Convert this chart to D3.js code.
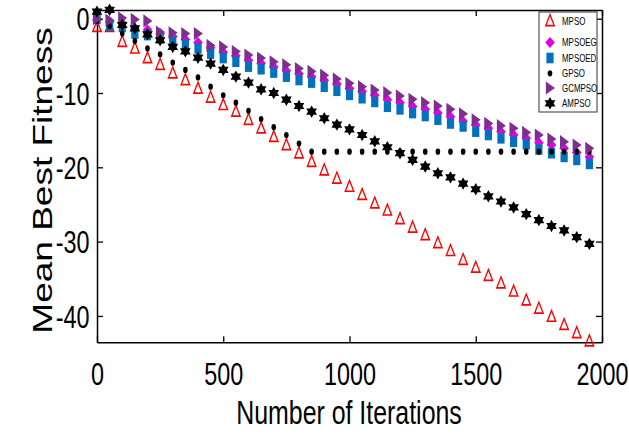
<!DOCTYPE html>
<html>
<head>
<meta charset="utf-8">
<script src="https://cdn.jsdelivr.net/npm/d3@7"></script>
<style>
  body { margin: 0; background: white; }
  text { font-family: "Liberation Sans", Arial, sans-serif; }
</style>
</head>
<body>
<div id="container"></div>
<script>
let w = 629;
let h = 435;
let squish = 0.755; // the figure was squeezed sideways

// DATA
let iterations = [0, 50, 100, 150, 200, 250, 300, 350, 400, 450, 500, 550, 600, 650, 700, 750, 800, 850, 900, 950,
  1000, 1050, 1100, 1150, 1200, 1250, 1300, 1350, 1400, 1450, 1500, 1550, 1600, 1650, 1700, 1750, 1800, 1850, 1900, 1950];

let mpso = [-1.1, -1.1, -3.1, -4.0, -5.3, -6.2, -7.35, -8.25, -9.4, -10.6, -11.6, -12.5, -13.6, -14.75, -15.9, -17.0, -18.1, -19.25, -20.4, -21.5,
  -22.6, -23.7, -24.85, -25.8, -26.95, -28.1, -29.1, -30.2, -31.25, -32.45, -33.5, -34.6, -35.6, -36.7, -37.9, -39.0, -40.1, -41.2, -42.3, -43.4];

let mpsoeg = [-0.2, -0.4, -0.6, -1.3, -1.5, -2.0, -2.4, -2.8, -3.2, -3.9, -4.5, -5.0, -5.6, -6.0, -6.5, -7.0, -7.4, -7.8, -8.3, -8.8,
  -9.4, -9.8, -10.3, -10.9, -11.3, -11.8, -12.2, -12.7, -13.2, -13.8, -14.3, -14.75, -15.2, -15.65, -16.1, -16.7, -17.0, -17.45, -18.0, -18.6];

let mpsoed = [0.0, -0.95, -1.1, -2.0, -2.2, -2.65, -3.1, -3.55, -4.0, -4.7, -5.3, -5.8, -6.45, -6.8, -7.25, -7.8, -8.25, -8.6, -9.15, -9.7,
  -10.25, -10.7, -11.2, -11.85, -12.2, -12.7, -13.1, -13.6, -14.1, -14.5, -15.2, -15.65, -16.1, -16.55, -16.9, -17.6, -18.1, -18.6, -19.0, -19.55];

let gpso = [-0.3, -1.0, -2.0, -3.0, -4.0, -4.8, -5.9, -6.9, -7.9, -9.15, -10.3, -11.3, -12.4, -13.5, -14.6, -15.65, -16.8, -17.9, -17.9, -17.9,
  -17.9, -17.9, -17.9, -17.9, -17.9, -17.9, -17.9, -17.9, -17.9, -17.9, -17.9, -17.9, -17.9, -17.9, -17.9, -17.9, -17.9, -17.9, -17.9, -17.9];

let gcmpso = [0.0, -0.2, 0.1, -0.1, -0.3, -1.8, -1.9, -2.0, -2.0, -3.6, -3.8, -4.4, -4.9, -5.3, -5.8, -6.2, -6.7, -7.1, -7.6, -8.1,
  -8.7, -9.15, -9.6, -9.95, -10.4, -10.85, -11.3, -11.75, -12.2, -12.8, -13.6, -14.1, -14.4, -14.75, -15.3, -15.65, -16.2, -16.55, -17.0, -17.45];

let ampso = [0.95, 1.2, -0.85, -1.3, -2.1, -2.9, -3.8, -4.4, -5.25, -6.05, -6.9, -7.8, -8.6, -9.5, -10.0, -10.9, -11.75, -12.5, -13.4, -14.25,
  -14.9, -15.65, -16.5, -17.3, -18.1, -19.0, -19.9, -20.8, -21.35, -22.2, -22.95, -23.9, -24.6, -25.4, -26.3, -27.1, -27.9, -28.5, -29.4, -30.3];

let seriesNames = ["MPSO", "MPSOEG", "MPSOED", "GPSO", "GCMPSO", "AMPSO"];
let xTicks = [0, 500, 1000, 1500, 2000];
let yTicks = [0, -10, -20, -30, -40];

// SVG
let viz = d3.select("#container").append("svg")
    .attr("width", w)
    .attr("height", h)
    .style("background-color", "white");

let xScale = d3.scaleLinear().domain([0, 2000]).range([97, 602]);
let yScale = d3.scaleLinear().domain([-43.55, 1.17]).range([342.3, 10]);

// MARKERS
function hexagram(r) {
  let pts = [];
  for (let k = 0; k < 12; k++) {
    let a = -Math.PI / 2 + k * Math.PI / 6;
    let rr = k % 2 == 0 ? r : r / Math.sqrt(3);
    pts.push([rr * Math.cos(a), rr * Math.sin(a)]);
  }
  return "M" + pts.map(p => p.join(",")).join("L") + "Z";
}

let markers = {
  MPSO: g => g.append("path").attr("d", "M0,-6.3L5.6,4.6L-5.6,4.6Z")
      .attr("transform", "scale(" + squish + ",1)")
      .attr("fill", "none").attr("stroke", "#ff0000").attr("stroke-width", 1.7),
  MPSOEG: g => g.append("path").attr("d", "M0,-5.5L4.8,0L0,5.5L-4.8,0Z")
      .attr("fill", "#e000e0"),
  MPSOED: g => g.append("rect").attr("x", -3.6).attr("y", -5.3).attr("width", 7.2).attr("height", 10.6)
      .attr("fill", "#0072bd"),
  GPSO: g => g.append("ellipse").attr("rx", 2.3).attr("ry", 3.1).attr("fill", "black"),
  GCMPSO: g => g.append("path").attr("d", "M6.5,0L-5.5,-6.6L-5.5,6.6Z")
      .attr("transform", "scale(" + squish + ",1)")
      .attr("fill", "#7e2f8e"),
  AMPSO: g => g.append("path").attr("d", hexagram(6.2)).attr("fill", "black")
};

let allSeries = [mpso, mpsoeg, mpsoed, gpso, gcmpso, ampso];

// AXES BOX
let xAxisBottom = d3.axisBottom(xScale).tickValues(xTicks).tickSizeInner(-6).tickSizeOuter(0).tickFormat(d => d);
let xAxisTop = d3.axisTop(xScale).tickValues(xTicks).tickSizeInner(-6).tickSizeOuter(0).tickFormat("");
let yAxisLeft = d3.axisLeft(yScale).tickValues(yTicks).tickSizeInner(-6).tickSizeOuter(0).tickFormat(d => d);
let yAxisRight = d3.axisRight(yScale).tickValues(yTicks).tickSizeInner(-6).tickSizeOuter(0).tickFormat("");

let gx = viz.append("g").attr("transform", "translate(0," + 342.3 + ")").call(xAxisBottom);
viz.append("g").attr("transform", "translate(0,10)").call(xAxisTop);
let gy = viz.append("g").attr("transform", "translate(97,0)").call(yAxisLeft);
viz.append("g").attr("transform", "translate(602,0)").call(yAxisRight);

viz.selectAll(".domain").attr("stroke", "black").attr("stroke-width", 1.5);
viz.selectAll(".tick line").attr("stroke", "black").attr("stroke-width", 1.3);
// close the box corners
viz.selectAll(".domain").attr("d", function () {
  return d3.select(this).attr("d");
});

gx.selectAll(".tick text")
    .attr("y", 0).attr("dy", 0)
    .attr("transform", "translate(0,43) scale(" + squish + ",1)")
    .style("font-size", "31px").attr("fill", "black");

gy.selectAll(".tick text")
    .attr("x", 0).attr("dy", "0.36em")
    .attr("transform", "translate(-7.5,0) scale(" + squish + ",1)")
    .style("font-size", "31px").attr("fill", "black");

// POINTS
allSeries.forEach((vals, s) => {
  let name = seriesNames[s];
  let grp = viz.append("g").attr("class", "series-" + name);
  vals.forEach((v, i) => {
    let m = grp.append("g")
        .attr("transform", "translate(" + xScale(iterations[i]) + "," + yScale(v) + ")");
    markers[name](m);
  });
});

// LEGEND
let legendRows = [21, 42.5, 58, 73.3, 88, 103.3];
viz.append("rect")
    .attr("x", 539).attr("y", 12).attr("width", 58).attr("height", 100)
    .attr("fill", "white").attr("stroke", "#333").attr("stroke-width", 1);
seriesNames.forEach((name, i) => {
  let m = viz.append("g").attr("transform", "translate(550," + legendRows[i] + ")");
  markers[name](m);
  viz.append("text")
      .attr("transform", "translate(562," + legendRows[i] + ") scale(" + squish + ",1)")
      .attr("dy", "0.36em")
      .style("font-size", "10.5px")
      .text(name);
});

// LABELS
viz.append("text")
    .attr("transform", "translate(349,424) scale(" + squish + ",1)")
    .attr("text-anchor", "middle")
    .style("font-size", "33px")
    .text("Number of Iterations");

viz.append("text")
    .attr("transform", "translate(41.5,180.5) scale(" + squish + ",1) rotate(-90)")
    .attr("text-anchor", "middle")
    .attr("dy", "0.36em")
    .style("font-size", "37px")
    .text("Mean Best Fitness");
</script>
</body>
</html>
